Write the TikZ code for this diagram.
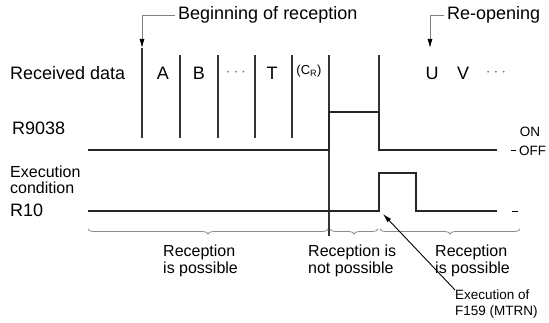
\documentclass[tikz,border=0pt]{standalone}
\usepackage{fontspec}
\setmainfont{Liberation Sans}
\usetikzlibrary{positioning,arrows.meta,decorations.pathreplacing}

\begin{document}
\begin{tikzpicture}[x=1pt,y=-1pt,>=latex,
        lbl/.style={font=\fontsize{18}{20}\selectfont,inner sep=0pt},
        smalllbl/.style={font=\fontsize{16}{16.5}\selectfont,inner sep=0pt,align=left},
        tinylbl/.style={font=\fontsize{13.5}{16}\selectfont,inner sep=0pt,align=left},
        signal/.style={line width=2.4pt,draw=black!85},
        tickline/.style={line width=1.1pt,draw=black!80},
        lead/.style={line width=0.8pt,draw=black!50},
        headtip/.style={-{Latex[length=9pt,width=5pt,black]}},
        brc/.style={decorate,decoration={brace,amplitude=5pt,mirror},draw=black!45,line width=0.8pt}]
        \useasboundingbox (0,0) rectangle (549,323);
        % labels on the left
        \node[lbl,anchor=west] (rxdata) at (10,73) {Received data};
        \node[lbl,anchor=west] (rflag) at (12,128) {R9038};
        \node[smalllbl,anchor=west] (cond) at (10,180) {Execution\\condition};
        \node[lbl,anchor=west] (rten) at (10,210) {R10};
        % start and restart markers
        \node[lbl,anchor=west,inner sep=3pt] (begin) at (175,15) {Beginning of reception};
        \node[lbl,anchor=west,inner sep=3pt] (reopen) at (444,15) {Re-opening};
        \coordinate (arrbegin) at (142,48);
        \coordinate (arrreopen) at (430,48);
        \draw[lead,headtip] (begin.west) -| (arrbegin);
        \draw[lead,headtip] (reopen.west) -| (arrreopen);
        % received characters
        \foreach \t/\x in {A/163,B/199,T/272,U/432,V/463}
            \node[lbl] (ch\t) at (\x,73) {\t};
        \node[lbl,text=black!55] (dotsa) at (236,73) {$\cdots$};
        \node[lbl,text=black!55] (dotsb) at (496,73) {$\cdots$};
        \node[font=\fontsize{13}{14}\selectfont,inner sep=0pt] (crch) at (309,71) {(C\textsubscript{R})};
        % separators
        \draw[tickline] (arrbegin) -- (142,138);
        \foreach \x in {180,218,255,292}
            \draw[tickline] (\x,55) -- (\x,138);
        \draw[tickline] (329,55) -- (329,236);
        \draw[tickline] (379,55) -- (379,112);
        % signals
        \draw[signal] (88,150) -- (329,150) -- (329,112) -- (379,112) -- (379,150) -- (497,150);
        \draw[signal] (88,211) -- (379,211) -- (379,173) -- (416,173) -- (416,211) -- (497,211);
        \node[tinylbl] (onlbl) at (530,132) {ON};
        \node[tinylbl,anchor=west] (offlbl) at (519,151) {OFF};
        \draw[line width=1pt] (511,151) -- (516,151);
        \draw[line width=1pt] (512,212) -- (518,212);
        % braces
        \draw[brc] (88,229) -- (328,229);
        \draw[brc] (330,229) -- (378,229);
        \draw[brc] (380,229) -- (520,229);
        \node[smalllbl,anchor=north west] (possa) at (163,245) {Reception\\is possible};
        \node[smalllbl,anchor=north west] (notposs) at (308,245) {Reception is\\not possible};
        \node[smalllbl,anchor=north west] (possb) at (435,245) {Reception\\is possible};
        % instruction execution
        \node[tinylbl,anchor=north west] (exec) at (455,290) {Execution of\\F159 (MTRN)};
        \coordinate (exectip) at (383,214);
        \draw[line width=0.9pt,headtip] (exec.north west) -- (exectip);
    \end{tikzpicture}
\end{document}
